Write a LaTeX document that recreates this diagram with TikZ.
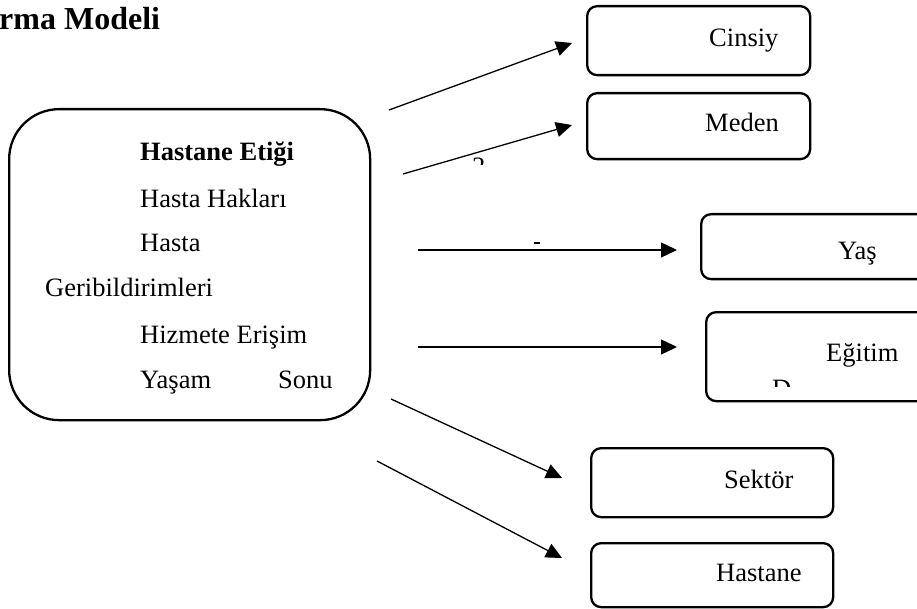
\documentclass[tikz,border=0pt]{standalone}
\usepackage{fontspec}
\setmainfont{Liberation Serif}
\usetikzlibrary{arrows.meta}

\tikzset{
  kutu/.style={draw, line width=2.3pt, rounded corners=10pt, inner sep=0pt, anchor=north west},
  yazi/.style={anchor=base west, inner sep=0pt},
  ok/.style={line width=1.3pt, -{Triangle[length=16pt,width=15pt]}}
}

\begin{document}
\begin{tikzpicture}[x=1pt,y=-1pt,font=\fontsize{26.5}{30}\selectfont]
\useasboundingbox (0,0) rectangle (917,609);
\clip (0,0) rectangle (917,609);

% baslik
\node[yazi, font=\fontsize{32}{36}\selectfont\bfseries] (baslik) at (-1,30) {rma Modeli};

% ana kutu
\node[kutu, rounded corners=50pt, minimum width=361pt, minimum height=311pt] (etik) at (8,108) {};
\node[yazi, font=\fontsize{26.5}{30}\selectfont\bfseries] (e1) at (140,160.7) {Hastane Etiği};
\node[yazi] (e2) at (140,207.3) {Hasta Hakları};
\node[yazi] (e3) at (140,251.7) {Hasta};
\node[yazi] (e4) at (45,296.7) {Geribildirimleri};
\node[yazi] (e5) at (140,343.3) {Hizmete Erişim};
\node[yazi] (e6) at (140,388.3) {Yaşam};
\node[yazi] (e7) at (278,388.3) {Sonu};

% sag kutular
\node[kutu, minimum width=223pt, minimum height=69pt] (cinsiyet) at (586,5) {};
\node[yazi] (t1) at (709,46.7) {Cinsiy};
\node[kutu, minimum width=223pt, minimum height=66pt] (medeni) at (586,92) {};
\node[yazi] (t2) at (705,131.7) {Meden};
\node[kutu, minimum width=230pt, minimum height=65pt] (yas) at (700,213) {};
\node[yazi] (t3) at (838,260) {Yaş};
\node[kutu, minimum width=230pt, minimum height=89pt] (egitim) at (705,311) {};
\node[yazi] (t4) at (826,361.7) {Eğitim};
\node[kutu, minimum width=242pt, minimum height=69pt] (sektor) at (590,447) {};
\node[yazi] (t5) at (724,488) {Sektör};
\node[kutu, minimum width=242pt, minimum height=64pt] (hastane) at (590,542) {};
\node[yazi] (t6) at (716,581.7) {Hastane};

% kesik yazi parcalari
\begin{scope}
\clip (465,150) rectangle (495,165);
\node[yazi] (p1) at (472,176) {2};
\end{scope}
\begin{scope}
\clip (700,370) rectangle (917,386);
\node[yazi] (p2) at (772,397.5) {D};
\end{scope}
\draw[line width=1.4pt] (534,243) -- (540,243);

% oklar
\coordinate (a1) at (389,110);
\coordinate (b1) at (572,43);
\coordinate (a2) at (403,174);
\coordinate (b2) at (572,125);
\coordinate (a3) at (418,250);
\coordinate (b3) at (677,250);
\coordinate (a4) at (418,347);
\coordinate (b4) at (677,347);
\coordinate (a5) at (391,399);
\coordinate (b5) at (562,478);
\coordinate (a6) at (377,461);
\coordinate (b6) at (562,558);

\draw[ok] (a1) -- (b1);
\draw[ok] (a2) -- (b2);
\draw[ok] (a3) -- (b3);
\draw[ok] (a4) -- (b4);
\draw[ok] (a5) -- (b5);
\draw[ok] (a6) -- (b6);

\end{tikzpicture}
\end{document}
